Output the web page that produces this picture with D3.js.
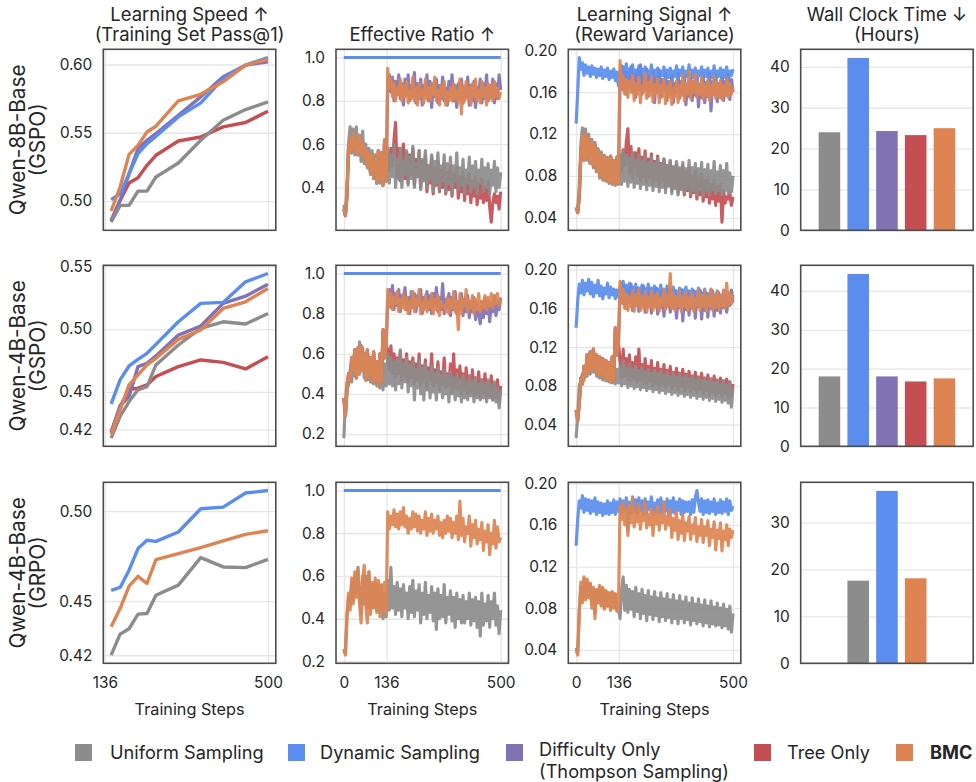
<!DOCTYPE html>
<html><head><meta charset="utf-8">
<script src="https://cdn.jsdelivr.net/npm/d3@7"></script>
<style>
body{margin:0;background:#fff}
svg{display:block}
text{font-family:Inter,"DejaVu Sans",sans-serif}
</style>
</head><body>
<svg id="chart" width="976" height="782"></svg>
<script>
// ---------------- DATA ----------------
const methods = ["Uniform Sampling","Dynamic Sampling","Difficulty Only","Tree Only","BMC"];
const methodColors = ["#8c8c8c","#5a8ded","#8172b3","#c44e52","#dd8452"];
const rowLabels = [["Qwen-8B-Base","(GSPO)"],["Qwen-4B-Base","(GSPO)"],["Qwen-4B-Base","(GRPO)"]];
const colTitles = [["Learning Speed \u2191","(Training Set Pass@1)"],["Effective Ratio \u2191"],["Learning Signal \u2191","(Reward Variance)"],["Wall Clock Time \u2193","(Hours)"]];
const xLabel = "Training Steps";

// Learning speed (training-set pass@1) at evaluation checkpoints
const speedSteps = [150,170,190,210,230,250,300,350,400,450,500];
const speedTicksX = [136,500];
const speed1Uniform    = [0.4846,0.4968,0.4968,0.5073,0.5073,0.5176,0.5279,0.5445,0.5592,0.5670,0.5726];
const speed1Dynamic    = [0.5010,0.5054,0.5200,0.5347,0.5420,0.5474,0.5616,0.5719,0.5897,0.5995,0.6051];
const speed1Difficulty = [0.4853,0.5005,0.5200,0.5384,0.5445,0.5494,0.5628,0.5763,0.5910,0.5995,0.6020];
const speed1Tree       = [0.4858,0.5005,0.5132,0.5171,0.5262,0.5335,0.5440,0.5469,0.5543,0.5575,0.5658];
const speed1Bmc        = [0.4927,0.5103,0.5342,0.5408,0.5506,0.5548,0.5733,0.5782,0.5873,0.5995,0.6037];
const speed2Uniform    = [0.4132,0.4304,0.4423,0.4516,0.4542,0.4714,0.4873,0.5005,0.5058,0.5040,0.5124];
const speed2Dynamic    = [0.4405,0.4595,0.4706,0.4759,0.4807,0.4878,0.5058,0.5204,0.5212,0.5376,0.5442];
const speed2Difficulty = [0.4177,0.4389,0.4463,0.4701,0.4727,0.4786,0.4952,0.5024,0.5204,0.5262,0.5357];
const speed2Tree       = [0.4177,0.4383,0.4521,0.4529,0.4555,0.4622,0.4701,0.4754,0.4735,0.4682,0.4780];
const speed2Bmc        = [0.4159,0.4357,0.4555,0.4635,0.4714,0.4767,0.4918,0.4992,0.5164,0.5217,0.5323];
const speed3Uniform    = [0.4201,0.4317,0.4347,0.4428,0.4432,0.4533,0.4589,0.4742,0.4690,0.4686,0.4732];
const speed3Dynamic    = [0.4560,0.4576,0.4672,0.4792,0.4838,0.4832,0.4884,0.5013,0.5022,0.5100,0.5114];
const speed3Bmc        = [0.4358,0.4459,0.4583,0.4638,0.4598,0.4731,0.4764,0.4797,0.4834,0.4871,0.4891];
const speedTicksY = [[0.50,0.55,0.60],[0.42,0.45,0.50,0.55],[0.42,0.45,0.50]];

// Training curves: warm-up steps (shared uniform warm-up) and steps after step 136
const stepsWarm = [0,5,10,15,20,25,30,35,40,45,50,55,60,65,70,75,80,85,90,95,100,105,110,115,120,125,130,135];
const stepsPost = [140,145,150,155,160,165,170,175,180,185,190,195,200,205,210,215,220,225,230,235,240,245,250,255,260,265,270,275,280,285,290,295,300,305,310,315,320,325,330,335,340,345,350,355,360,365,370,375,380,385,390,395,400,405,410,415,420,425,430,435,440,445,450,455,460,465,470,475,480,485,490,495,500];
const curveTicksX = [0,136,500];
const dynamicRatioSteps = [0,500];
const dynamicRatio = [1.0,1.0];
const ratioTicksY = [0.2,0.4,0.6,0.8,1.0];
const signalTicksY = [0.04,0.08,0.12,0.16,0.20];

// ---- Row 1: Qwen-8B-Base (GSPO) ----
const ratio1Warm = [0.30,0.27,0.36,0.58,0.63,0.56,0.65,0.58,0.62,0.55,
 0.64,0.56,0.60,0.53,0.58,0.50,0.56,0.47,0.55,0.45,
 0.53,0.42,0.57,0.44,0.56,0.41,0.62,0.43];
const ratio1Uniform = [0.32,0.28,0.40,0.60,0.68,0.57,0.67,0.55,0.68,0.56,
 0.64,0.52,0.66,0.51,0.60,0.49,0.58,0.46,0.57,0.44,
 0.55,0.43,0.54,0.42,0.56,0.41,0.53,0.45,
 0.58,0.42,0.55,0.45,0.60,0.40,0.53,0.44,0.58,0.40,
 0.52,0.46,0.57,0.41,0.54,0.44,0.59,0.40,0.51,0.45,
 0.56,0.39,0.53,0.43,0.57,0.40,0.50,0.44,0.55,0.38,
 0.52,0.42,0.56,0.39,0.50,0.43,0.55,0.38,0.51,0.42,
 0.54,0.37,0.50,0.43,0.56,0.39,0.49,0.41,0.53,0.37,
 0.48,0.42,0.54,0.38,0.50,0.40,0.52,0.37,0.48,0.42,
 0.53,0.38,0.49,0.40,0.51,0.37,0.48,0.41,0.52,0.38,
 0.49,0.40,0.47];
const ratio1Bmc = [0.95,0.86,0.90,0.82,0.88,0.80,0.86,0.83,0.90,0.80,
 0.87,0.82,0.89,0.79,0.85,0.81,0.91,0.80,0.86,0.78,
 0.88,0.82,0.85,0.79,0.90,0.81,0.86,0.80,0.88,0.83,
 0.91,0.80,0.85,0.78,0.87,0.82,0.89,0.78,0.84,0.80,
 0.86,0.80,0.88,0.81,0.85,0.79,0.90,0.74,0.87,0.80,
 0.89,0.81,0.86,0.78,0.88,0.82,0.90,0.80,0.85,0.79,
 0.89,0.82,0.86,0.78,0.88,0.81,0.87,0.80,0.89,0.82,
 0.86,0.81,0.84];
const ratio1Difficulty = [0.88,0.92,0.84,0.91,0.80,0.89,0.83,0.92,0.81,0.88,
 0.78,0.90,0.83,0.92,0.80,0.87,0.82,0.93,0.79,0.88,
 0.81,0.90,0.78,0.87,0.83,0.92,0.80,0.89,0.77,0.88,
 0.82,0.90,0.79,0.87,0.81,0.91,0.80,0.86,0.78,0.89,
 0.82,0.92,0.80,0.87,0.77,0.88,0.81,0.90,0.79,0.86,
 0.82,0.91,0.78,0.87,0.80,0.89,0.77,0.86,0.82,0.90,
 0.79,0.88,0.81,0.92,0.80,0.87,0.82,0.90,0.79,0.88,
 0.81,0.92,0.85];
const ratio1Tree = [0.56,0.48,0.58,0.50,0.62,0.70,0.45,0.58,0.43,0.55,
 0.60,0.44,0.56,0.42,0.55,0.46,0.58,0.41,0.53,0.45,
 0.57,0.40,0.52,0.44,0.55,0.38,0.50,0.42,0.54,0.37,
 0.49,0.41,0.52,0.38,0.48,0.40,0.51,0.37,0.47,0.39,
 0.50,0.36,0.46,0.40,0.49,0.35,0.45,0.38,0.47,0.34,
 0.44,0.37,0.46,0.33,0.43,0.36,0.45,0.32,0.42,0.35,
 0.44,0.33,0.40,0.34,0.43,0.31,0.24,0.33,0.37,0.33,
 0.36,0.30,0.38];
const signal1Warm = [0.050,0.045,0.060,0.100,0.118,0.095,0.120,0.098,0.116,0.092,
 0.112,0.090,0.110,0.085,0.104,0.080,0.100,0.078,0.098,0.076,
 0.096,0.074,0.099,0.073,0.094,0.072,0.098,0.074];
const signal1Uniform = [0.050,0.048,0.070,0.110,0.126,0.098,0.125,0.095,0.120,0.092,
 0.115,0.088,0.112,0.084,0.106,0.078,0.103,0.076,0.100,0.075,
 0.098,0.073,0.097,0.072,0.095,0.071,0.094,0.072,
 0.098,0.072,0.105,0.075,0.100,0.070,0.097,0.074,0.102,0.069,
 0.095,0.073,0.100,0.068,0.094,0.072,0.099,0.067,0.093,0.071,
 0.098,0.066,0.092,0.070,0.097,0.065,0.091,0.069,0.096,0.064,
 0.090,0.070,0.095,0.063,0.089,0.068,0.094,0.062,0.088,0.067,
 0.093,0.064,0.087,0.068,0.095,0.063,0.088,0.066,0.092,0.062,
 0.087,0.067,0.093,0.061,0.086,0.066,0.091,0.062,0.085,0.067,
 0.094,0.063,0.084,0.066,0.090,0.062,0.085,0.066,0.092,0.063,
 0.083,0.065,0.080];
const signal1Dynamic = [0.130,0.160,0.193,0.182,0.188,0.176,0.186,0.178,0.184,0.175,
 0.185,0.177,0.183,0.174,0.182,0.176,0.184,0.173,0.181,0.175,
 0.183,0.172,0.180,0.174,0.182,0.171,0.179,0.166,
 0.180,0.173,0.184,0.176,0.187,0.174,0.182,0.177,0.186,0.173,
 0.181,0.176,0.185,0.172,0.182,0.175,0.184,0.173,0.180,0.176,
 0.186,0.172,0.181,0.175,0.183,0.171,0.180,0.176,0.184,0.172,
 0.181,0.174,0.183,0.171,0.180,0.175,0.185,0.172,0.181,0.176,
 0.184,0.170,0.180,0.175,0.186,0.172,0.181,0.174,0.183,0.171,
 0.180,0.176,0.184,0.172,0.181,0.175,0.183,0.170,0.180,0.174,
 0.185,0.171,0.180,0.175,0.183,0.172,0.181,0.174,0.184,0.171,
 0.180,0.176,0.182];
const signal1Bmc = [0.190,0.165,0.175,0.158,0.172,0.155,0.170,0.160,0.176,0.152,
 0.168,0.158,0.174,0.150,0.166,0.160,0.178,0.154,0.169,0.157,
 0.175,0.151,0.167,0.159,0.173,0.150,0.166,0.156,0.172,0.149,
 0.165,0.155,0.170,0.148,0.164,0.156,0.171,0.150,0.166,0.157,
 0.176,0.152,0.168,0.158,0.180,0.154,0.170,0.160,0.177,0.155,
 0.168,0.158,0.174,0.153,0.167,0.157,0.172,0.152,0.166,0.158,
 0.175,0.154,0.168,0.156,0.171,0.153,0.166,0.157,0.173,0.155,
 0.168,0.158,0.165];
const signal1Difficulty = [0.175,0.185,0.162,0.180,0.158,0.178,0.165,0.184,0.160,0.177,
 0.155,0.180,0.162,0.186,0.158,0.176,0.163,0.182,0.156,0.175,
 0.161,0.179,0.150,0.174,0.160,0.181,0.155,0.172,0.162,0.178,
 0.152,0.170,0.158,0.176,0.150,0.168,0.160,0.178,0.154,0.170,
 0.158,0.175,0.148,0.168,0.156,0.176,0.152,0.170,0.157,0.174,
 0.146,0.167,0.155,0.175,0.150,0.169,0.156,0.178,0.142,0.170,
 0.158,0.176,0.151,0.168,0.155,0.174,0.152,0.170,0.157,0.177,
 0.153,0.172,0.160];
const signal1Tree = [0.100,0.085,0.105,0.090,0.112,0.125,0.082,0.108,0.078,0.102,
 0.102,0.080,0.106,0.076,0.098,0.079,0.104,0.074,0.096,0.078,
 0.101,0.072,0.094,0.076,0.099,0.070,0.092,0.075,0.096,0.068,
 0.090,0.072,0.094,0.066,0.088,0.070,0.092,0.064,0.086,0.068,
 0.090,0.062,0.084,0.066,0.088,0.060,0.080,0.064,0.085,0.058,
 0.078,0.062,0.082,0.056,0.076,0.060,0.079,0.054,0.072,0.058,
 0.075,0.052,0.070,0.056,0.072,0.036,0.066,0.054,0.060,0.058,
 0.064,0.052,0.060];
const hours1 = [24.0,42.2,24.3,23.3,25.0];

// ---- Row 2: Qwen-4B-Base (GSPO) ----
const ratio2Warm = [0.38,0.29,0.42,0.50,0.47,0.58,0.52,0.62,0.48,0.63,
 0.50,0.64,0.52,0.60,0.47,0.62,0.49,0.58,0.46,0.61,
 0.47,0.56,0.44,0.60,0.46,0.72,0.58,0.64];
const ratio2Uniform = [0.18,0.36,0.46,0.44,0.52,0.46,0.58,0.49,0.62,0.50,
 0.66,0.52,0.63,0.48,0.60,0.47,0.58,0.46,0.57,0.45,
 0.56,0.44,0.55,0.43,0.54,0.42,0.55,0.44,
 0.60,0.45,0.58,0.44,0.56,0.42,0.57,0.45,0.62,0.43,
 0.55,0.46,0.58,0.41,0.54,0.44,0.56,0.37,0.52,0.43,
 0.57,0.40,0.53,0.37,0.55,0.42,0.51,0.38,0.54,0.41,
 0.50,0.37,0.53,0.41,0.49,0.38,0.52,0.40,0.49,0.36,
 0.51,0.40,0.48,0.37,0.50,0.39,0.47,0.36,0.49,0.38,
 0.46,0.37,0.49,0.39,0.46,0.36,0.48,0.38,0.45,0.37,
 0.47,0.38,0.45,0.36,0.47,0.38,0.44,0.37,0.46,0.36,
 0.43,0.33,0.42];
const ratio2Bmc = [0.92,0.84,0.90,0.82,0.88,0.85,0.91,0.81,0.87,0.83,
 0.90,0.82,0.88,0.80,0.86,0.83,0.91,0.81,0.87,0.84,
 0.92,0.80,0.86,0.82,0.89,0.81,0.86,0.83,0.90,0.80,
 0.87,0.82,0.89,0.79,0.86,0.84,0.84,0.81,0.88,0.80,
 0.87,0.83,0.91,0.81,0.86,0.72,0.90,0.80,0.87,0.84,
 0.92,0.81,0.86,0.83,0.89,0.80,0.87,0.82,0.90,0.81,
 0.86,0.83,0.89,0.82,0.88,0.84,0.90,0.83,0.89,0.85,
 0.90,0.84,0.87];
const ratio2Difficulty = [0.86,0.92,0.83,0.94,0.82,0.90,0.84,0.92,0.81,0.89,
 0.85,0.93,0.82,0.88,0.80,0.91,0.83,0.90,0.81,0.89,
 0.84,0.92,0.80,0.88,0.83,0.91,0.82,0.89,0.80,0.90,
 0.84,0.93,0.81,0.88,0.82,0.95,0.80,0.87,0.83,0.90,
 0.79,0.88,0.82,0.91,0.80,0.86,0.82,0.90,0.79,0.87,
 0.81,0.89,0.78,0.86,0.81,0.88,0.77,0.85,0.80,0.75,
 0.86,0.78,0.88,0.80,0.86,0.76,0.85,0.81,0.89,0.79,
 0.86,0.82,0.88];
const ratio2Tree = [0.62,0.52,0.64,0.50,0.60,0.48,0.58,0.50,0.61,0.47,
 0.57,0.49,0.60,0.46,0.56,0.48,0.58,0.45,0.55,0.47,
 0.60,0.44,0.54,0.46,0.57,0.43,0.53,0.47,0.60,0.44,
 0.52,0.46,0.56,0.42,0.51,0.45,0.58,0.43,0.50,0.44,
 0.55,0.41,0.60,0.43,0.52,0.42,0.54,0.40,0.50,0.42,
 0.53,0.40,0.49,0.41,0.52,0.39,0.48,0.40,0.51,0.38,
 0.47,0.40,0.50,0.38,0.46,0.39,0.49,0.37,0.45,0.38,
 0.47,0.36,0.44];
const signal2Warm = [0.055,0.044,0.062,0.088,0.082,0.100,0.090,0.112,0.094,0.115,
 0.096,0.118,0.098,0.112,0.090,0.110,0.092,0.108,0.088,0.106,
 0.086,0.104,0.084,0.110,0.085,0.140,0.112,0.124];
const signal2Uniform = [0.026,0.050,0.080,0.085,0.092,0.086,0.100,0.090,0.108,0.092,
 0.114,0.094,0.110,0.090,0.106,0.088,0.104,0.086,0.103,0.085,
 0.101,0.084,0.100,0.083,0.098,0.082,0.097,0.083,
 0.100,0.080,0.106,0.082,0.098,0.078,0.102,0.080,0.097,0.077,
 0.100,0.079,0.096,0.076,0.099,0.078,0.094,0.075,0.097,0.077,
 0.093,0.074,0.096,0.076,0.092,0.073,0.095,0.075,0.091,0.072,
 0.094,0.074,0.090,0.071,0.093,0.073,0.089,0.070,0.092,0.072,
 0.088,0.069,0.091,0.071,0.087,0.068,0.090,0.070,0.086,0.067,
 0.089,0.069,0.085,0.066,0.088,0.068,0.084,0.065,0.087,0.067,
 0.083,0.064,0.086,0.066,0.082,0.063,0.085,0.065,0.081,0.062,
 0.084,0.058,0.078];
const signal2Dynamic = [0.140,0.168,0.185,0.176,0.189,0.174,0.186,0.178,0.190,0.175,
 0.187,0.172,0.184,0.176,0.189,0.173,0.183,0.170,0.181,0.175,
 0.186,0.171,0.182,0.174,0.180,0.170,0.179,0.172,
 0.183,0.174,0.188,0.172,0.184,0.176,0.186,0.173,0.182,0.175,
 0.185,0.171,0.181,0.174,0.184,0.172,0.180,0.176,0.185,0.170,
 0.181,0.174,0.183,0.171,0.180,0.175,0.184,0.170,0.179,0.174,
 0.183,0.171,0.180,0.173,0.182,0.169,0.178,0.172,0.181,0.168,
 0.179,0.173,0.182,0.170,0.178,0.172,0.180,0.168,0.177,0.171,
 0.181,0.167,0.176,0.170,0.180,0.166,0.175,0.170,0.179,0.165,
 0.174,0.169,0.178,0.165,0.173,0.168,0.177,0.164,0.172,0.167,
 0.176,0.165,0.172];
const signal2Bmc = [0.188,0.166,0.180,0.160,0.175,0.158,0.172,0.162,0.178,0.157,
 0.174,0.163,0.180,0.158,0.172,0.160,0.177,0.156,0.171,0.162,
 0.178,0.158,0.173,0.161,0.176,0.157,0.170,0.163,0.180,0.159,
 0.173,0.162,0.196,0.160,0.175,0.158,0.172,0.163,0.178,0.157,
 0.171,0.162,0.177,0.158,0.172,0.161,0.176,0.157,0.170,0.163,
 0.179,0.158,0.173,0.162,0.178,0.157,0.172,0.163,0.180,0.158,
 0.174,0.161,0.177,0.159,0.173,0.162,0.179,0.160,0.186,0.163,
 0.176,0.165,0.174];
const signal2Difficulty = [0.178,0.186,0.165,0.182,0.160,0.180,0.166,0.185,0.158,0.176,
 0.163,0.181,0.157,0.178,0.164,0.183,0.156,0.175,0.162,0.180,
 0.155,0.174,0.163,0.181,0.154,0.176,0.161,0.179,0.152,0.173,
 0.162,0.180,0.156,0.175,0.160,0.178,0.150,0.172,0.161,0.179,
 0.147,0.171,0.159,0.177,0.153,0.174,0.160,0.178,0.150,0.172,
 0.162,0.179,0.149,0.171,0.158,0.176,0.151,0.173,0.160,0.178,
 0.152,0.170,0.158,0.176,0.155,0.172,0.161,0.178,0.156,0.170,
 0.163,0.179,0.166];
const signal2Tree = [0.105,0.088,0.118,0.090,0.108,0.086,0.112,0.085,0.104,0.088,
 0.110,0.084,0.118,0.086,0.102,0.083,0.108,0.082,0.100,0.084,
 0.106,0.080,0.098,0.083,0.104,0.079,0.097,0.082,0.102,0.078,
 0.096,0.081,0.100,0.077,0.094,0.080,0.098,0.076,0.093,0.079,
 0.097,0.075,0.092,0.078,0.095,0.074,0.090,0.077,0.094,0.073,
 0.089,0.076,0.093,0.072,0.088,0.075,0.091,0.071,0.087,0.074,
 0.090,0.070,0.086,0.073,0.088,0.069,0.085,0.072,0.087,0.068,
 0.084,0.070,0.082];
const hours2 = [18.0,44.4,18.0,16.7,17.5];

// ---- Row 3: Qwen-4B-Base (GRPO) ----
const ratio3Warm = [0.25,0.23,0.41,0.52,0.44,0.59,0.47,0.62,0.50,0.63,
 0.48,0.38,0.58,0.65,0.46,0.38,0.62,0.42,0.57,0.46,
 0.59,0.43,0.58,0.41,0.56,0.44,0.57,0.42];
const ratio3Uniform = [0.26,0.24,0.42,0.50,0.46,0.57,0.49,0.60,0.52,0.64,
 0.50,0.42,0.60,0.47,0.60,0.45,0.62,0.44,0.56,0.45,
 0.57,0.44,0.56,0.43,0.55,0.40,0.52,0.41,
 0.58,0.44,0.64,0.45,0.55,0.42,0.57,0.44,0.54,0.41,
 0.56,0.45,0.52,0.40,0.55,0.43,0.58,0.41,0.53,0.44,
 0.56,0.38,0.52,0.42,0.57,0.40,0.51,0.43,0.55,0.39,
 0.52,0.35,0.54,0.40,0.51,0.41,0.56,0.38,0.50,0.42,
 0.53,0.39,0.50,0.36,0.52,0.40,0.49,0.38,0.51,0.38,
 0.48,0.40,0.52,0.37,0.49,0.39,0.50,0.36,0.48,0.32,
 0.52,0.37,0.47,0.39,0.51,0.36,0.48,0.40,0.52,0.37,
 0.46,0.33,0.44];
const ratio3Bmc = [0.90,0.82,0.88,0.84,0.91,0.83,0.89,0.82,0.90,0.84,
 0.92,0.83,0.88,0.80,0.87,0.82,0.90,0.83,0.89,0.81,
 0.88,0.80,0.86,0.82,0.90,0.79,0.87,0.81,0.89,0.80,
 0.86,0.82,0.88,0.79,0.85,0.78,0.86,0.80,0.88,0.81,
 0.87,0.78,0.85,0.80,0.88,0.77,0.95,0.79,0.87,0.76,
 0.83,0.80,0.88,0.74,0.84,0.78,0.86,0.75,0.82,0.77,
 0.85,0.72,0.81,0.76,0.84,0.70,0.80,0.75,0.86,0.73,
 0.83,0.76,0.78];
const signal3Warm = [0.040,0.035,0.075,0.105,0.085,0.110,0.088,0.108,0.090,0.104,
 0.080,0.100,0.070,0.098,0.085,0.102,0.082,0.100,0.079,0.097,
 0.082,0.095,0.078,0.096,0.080,0.094,0.077,0.082];
const signal3Uniform = [0.042,0.038,0.078,0.100,0.088,0.108,0.090,0.106,0.092,0.103,
 0.084,0.098,0.075,0.097,0.086,0.100,0.083,0.098,0.080,0.096,
 0.082,0.094,0.079,0.095,0.081,0.093,0.078,0.080,
 0.070,0.098,0.110,0.078,0.102,0.076,0.098,0.079,0.096,0.072,
 0.100,0.077,0.094,0.070,0.098,0.075,0.092,0.068,0.097,0.074,
 0.091,0.069,0.096,0.073,0.090,0.067,0.095,0.072,0.089,0.068,
 0.094,0.071,0.088,0.066,0.093,0.070,0.087,0.065,0.092,0.070,
 0.086,0.066,0.091,0.069,0.085,0.064,0.090,0.068,0.084,0.065,
 0.089,0.067,0.083,0.063,0.088,0.066,0.082,0.062,0.087,0.065,
 0.081,0.063,0.085,0.064,0.080,0.061,0.084,0.063,0.079,0.060,
 0.082,0.057,0.075];
const signal3Dynamic = [0.140,0.165,0.183,0.176,0.188,0.172,0.185,0.174,0.184,0.171,
 0.183,0.173,0.186,0.170,0.182,0.172,0.181,0.169,0.180,0.171,
 0.183,0.170,0.181,0.172,0.184,0.170,0.182,0.173,
 0.185,0.171,0.183,0.174,0.186,0.155,0.182,0.172,0.187,0.173,
 0.184,0.171,0.186,0.174,0.183,0.170,0.185,0.172,0.182,0.175,
 0.187,0.170,0.181,0.173,0.184,0.171,0.186,0.172,0.182,0.174,
 0.185,0.170,0.183,0.172,0.186,0.171,0.182,0.174,0.185,0.170,
 0.183,0.172,0.182,0.173,0.182,0.170,0.184,0.172,0.186,0.193,
 0.182,0.173,0.185,0.170,0.183,0.172,0.184,0.171,0.182,0.173,
 0.185,0.170,0.181,0.172,0.184,0.171,0.182,0.173,0.185,0.170,
 0.183,0.174,0.178];
const signal3Bmc = [0.178,0.165,0.182,0.160,0.176,0.150,0.178,0.162,0.186,0.158,
 0.175,0.163,0.180,0.156,0.172,0.164,0.182,0.157,0.170,0.160,
 0.176,0.150,0.172,0.161,0.178,0.155,0.170,0.162,0.182,0.156,
 0.168,0.160,0.175,0.148,0.166,0.155,0.172,0.146,0.164,0.152,
 0.170,0.145,0.162,0.154,0.168,0.146,0.160,0.152,0.167,0.144,
 0.158,0.150,0.165,0.143,0.158,0.150,0.164,0.140,0.156,0.148,
 0.163,0.136,0.155,0.147,0.162,0.135,0.154,0.146,0.160,0.140,
 0.156,0.148,0.155];
const hours3Methods = [0,1,4];
const hours3 = [17.6,36.7,18.1];
const hoursTicksY = [0,10,20,30,40];

// ---------------- LAYOUT / STYLE ----------------
const W = 976, H = 782;
const colLeft = [103.3, 336, 568.3, 800.7];
const rowTop = [49.3, 265.3, 482.3];
const PW = 172.5, PH = 181;
const GRID = "#e6e6e6", FRAME = "#4d4d4d", TXT = "#262626";
const FAM = "Inter, DejaVu Sans, sans-serif";

const svg = d3.select("#chart");
svg.append("rect").attr("width", W).attr("height", H).attr("fill", "#fff");

// font sizes fitted so that text widths match the reference picture
function fit(pairs, weight){
  const vals = pairs.map(([s, w]) => {
    const t = svg.append("text").attr("font-size", 100).attr("font-family", FAM)
      .attr("font-weight", weight || "normal").text(s);
    const m = t.node().getComputedTextLength(); t.remove();
    return 100 * w / m;
  });
  return d3.mean(vals);
}
const TICK_FS  = fit([["0.60", 32.3], ["0.16", 27], ["40", 20.7]]);
const TITLE_FS = fit([["(Training Set Pass@1)", 188], ["(Reward Variance)", 160], ["Effective Ratio", 127]]);
const ROW_FS   = fit([["Qwen-8B-Base", 143], ["(GSPO)", 77]]);
const XL_FS    = fit([["Training Steps", 110]]);
const LEG_FS   = fit([["Uniform Sampling", 153], ["(Thompson Sampling)", 190], ["Dynamic Sampling", 160.6]]);

const full = stepsWarm.concat(stepsPost);
const S = (xs, ys) => d3.zip(xs, ys);

function padded(vals){ const [a,b] = d3.extent(vals); const p = (b-a)*0.05; return [a-p, b+p]; }

let clipId = 0;
function linePanel(r, c, series, xTicks, yTicks, fmt, lw, op){
  const g = svg.append("g").attr("transform", `translate(${colLeft[c]},${rowTop[r]})`);
  const allX = series.flatMap(s => s.data.map(d => d[0]));
  const allY = series.flatMap(s => s.data.map(d => d[1]));
  const x = d3.scaleLinear().domain(padded(allX)).range([0, PW]);
  const y = d3.scaleLinear().domain(padded(allY)).range([PH, 0]);
  const yt = yTicks.filter(t => t >= y.domain()[0]-1e-9 && t <= y.domain()[1]+1e-9);
  g.append("g").call(d3.axisLeft(y).tickValues(yt).tickSize(-PW).tickFormat(""))
    .call(s => s.select(".domain").remove())
    .selectAll("line").attr("stroke", GRID).attr("stroke-width", 1.3);
  g.append("g").attr("transform", `translate(0,${PH})`)
    .call(d3.axisBottom(x).tickValues(xTicks).tickSize(-PH).tickFormat(""))
    .call(s => s.select(".domain").remove())
    .selectAll("line").attr("stroke", GRID).attr("stroke-width", 1.3);
  const id = "clip" + (clipId++);
  g.append("clipPath").attr("id", id).append("rect").attr("width", PW).attr("height", PH);
  const line = d3.line().x(d => x(d[0])).y(d => y(d[1]));
  const lg = g.append("g").attr("clip-path", `url(#${id})`);
  series.forEach(s => {
    lg.append("path").attr("d", line(s.data)).attr("fill", "none")
      .attr("stroke", methodColors[s.m]).attr("stroke-width", s.lw || lw)
      .attr("stroke-linejoin", "round").attr("stroke-linecap", "butt")
      .attr("opacity", s.op || op);
  });
  g.append("g").call(d3.axisLeft(y).tickValues(yt).tickSize(0).tickPadding(11).tickFormat(d3.format(fmt)))
    .call(s => s.select(".domain").remove())
    .selectAll("text").attr("font-size", TICK_FS).attr("font-family", FAM).attr("fill", TXT);
  if (r === 2){
    g.append("g").attr("transform", `translate(0,${PH})`)
      .call(d3.axisBottom(x).tickValues(xTicks).tickSize(0).tickPadding(14).tickFormat(d3.format("d")))
      .call(s => s.select(".domain").remove())
      .selectAll("text").attr("font-size", TICK_FS).attr("font-family", FAM).attr("fill", TXT);
    g.append("text").attr("x", PW/2).attr("y", PH + 52).attr("text-anchor", "middle")
      .attr("font-size", XL_FS).attr("fill", TXT).text(xLabel);
  }
  g.append("rect").attr("width", PW).attr("height", PH).attr("fill", "none")
    .attr("stroke", FRAME).attr("stroke-width", 1.6);
}

function barPanel(r, idx, vals){
  const g = svg.append("g").attr("transform", `translate(${colLeft[3]},${rowTop[r]})`);
  const x = d3.scaleLinear().domain([-1.0, 5.0]).range([0, PW]);
  const y = d3.scaleLinear().domain([0, d3.max(vals)*1.05]).range([PH, 0]);
  const yt = hoursTicksY.filter(t => t <= y.domain()[1]);
  g.append("g").call(d3.axisLeft(y).tickValues(yt).tickSize(-PW).tickFormat(""))
    .call(s => s.select(".domain").remove())
    .selectAll("line").attr("stroke", GRID).attr("stroke-width", 1.3);
  const offset = (methods.length - vals.length) / 2;
  const bw = 0.75;
  g.selectAll("rect.bar").data(vals).join("rect").attr("class","bar")
    .attr("x", (d,i) => x(i + offset - bw/2)).attr("width", x(bw) - x(0))
    .attr("y", d => y(d)).attr("height", d => y(0) - y(d))
    .attr("fill", (d,i) => methodColors[idx[i]]);
  g.append("g").call(d3.axisLeft(y).tickValues(yt).tickSize(0).tickPadding(11).tickFormat(d3.format("d")))
    .call(s => s.select(".domain").remove())
    .selectAll("text").attr("font-size", TICK_FS).attr("font-family", FAM).attr("fill", TXT);
  g.append("rect").attr("width", PW).attr("height", PH).attr("fill", "none")
    .attr("stroke", FRAME).attr("stroke-width", 1.6);
}

// ---------------- BUILD PANELS ----------------
const speedRows = [
  [[3,speed1Tree],[2,speed1Difficulty],[0,speed1Uniform],[1,speed1Dynamic],[4,speed1Bmc]],
  [[3,speed2Tree],[2,speed2Difficulty],[0,speed2Uniform],[1,speed2Dynamic],[4,speed2Bmc]],
  [[0,speed3Uniform],[1,speed3Dynamic],[4,speed3Bmc]]
];
speedRows.forEach((rs, r) => {
  linePanel(r, 0, rs.map(([m, v]) => ({m, data: S(speedSteps, v)})), speedTicksX, speedTicksY[r], ".2f", 3.4, 1);
});

const ratioRows = [
  {warm: ratio1Warm, uni: ratio1Uniform, post: [[3, ratio1Tree],[2, ratio1Difficulty]], bmc: ratio1Bmc},
  {warm: ratio2Warm, uni: ratio2Uniform, post: [[3, ratio2Tree],[2, ratio2Difficulty]], bmc: ratio2Bmc},
  {warm: ratio3Warm, uni: ratio3Uniform, post: [], bmc: ratio3Bmc}
];
ratioRows.forEach((o, r) => {
  const ser = o.post.map(([m, v]) => ({m, data: S(full, o.warm.concat(v))}));
  ser.push({m: 0, data: S(full, o.uni)});
  ser.push({m: 1, data: S(dynamicRatioSteps, dynamicRatio), op: 1, lw: 3});
  ser.push({m: 4, data: S(full, o.warm.concat(o.bmc))});
  linePanel(r, 1, ser, curveTicksX, ratioTicksY, ".1f", 3.2, 0.92);
});

const signalRows = [
  {warm: signal1Warm, uni: signal1Uniform, dyn: signal1Dynamic, post: [[3, signal1Tree],[2, signal1Difficulty]], bmc: signal1Bmc},
  {warm: signal2Warm, uni: signal2Uniform, dyn: signal2Dynamic, post: [[3, signal2Tree],[2, signal2Difficulty]], bmc: signal2Bmc},
  {warm: signal3Warm, uni: signal3Uniform, dyn: signal3Dynamic, post: [], bmc: signal3Bmc}
];
signalRows.forEach((o, r) => {
  const ser = o.post.map(([m, v]) => ({m, data: S(full, o.warm.concat(v))}));
  ser.push({m: 0, data: S(full, o.uni)});
  ser.push({m: 1, data: S(full, o.dyn)});
  ser.push({m: 4, data: S(full, o.warm.concat(o.bmc))});
  linePanel(r, 2, ser, curveTicksX, signalTicksY, ".2f", 3.2, 0.92);
});

barPanel(0, [0,1,2,3,4], hours1);
barPanel(1, [0,1,2,3,4], hours2);
barPanel(2, hours3Methods, hours3);

// ---------------- TITLES ----------------
colTitles.forEach((lines, c) => {
  const cx = colLeft[c] + PW/2;
  const base = lines.length === 2 ? [20.5, 41] : [41];
  lines.forEach((t, i) => svg.append("text").attr("x", cx).attr("y", base[i])
    .attr("text-anchor", "middle").attr("font-size", TITLE_FS).attr("fill", TXT).text(t));
});
rowLabels.forEach((lines, r) => {
  const cy = rowTop[r] + PH/2;
  [24.5, 45].forEach((bx, i) => svg.append("text")
    .attr("transform", `translate(${bx},${cy}) rotate(-90)`)
    .attr("text-anchor", "middle").attr("font-size", ROW_FS).attr("fill", TXT).text(lines[i]));
});

// ---------------- LEGEND ----------------
const legSq = [75, 288, 506, 754, 896];
const legTx = [110, 320, 539, 787, 930];
const legLines = [["Uniform Sampling"],["Dynamic Sampling"],["Difficulty Only","(Thompson Sampling)"],["Tree Only"],["BMC"]];
methods.forEach((m, i) => {
  svg.append("rect").attr("x", legSq[i]).attr("y", 744).attr("width", 17).attr("height", 17)
    .attr("fill", methodColors[i]);
  const ls = legLines[i];
  const ys = ls.length === 2 ? [755.5, 777.5] : [758.5];
  ls.forEach((t, j) => svg.append("text").attr("x", legTx[i]).attr("y", ys[j])
    .attr("font-size", LEG_FS).attr("fill", TXT)
    .attr("font-weight", i === 4 ? "bold" : "normal").text(t));
});
</script>
</body></html>
